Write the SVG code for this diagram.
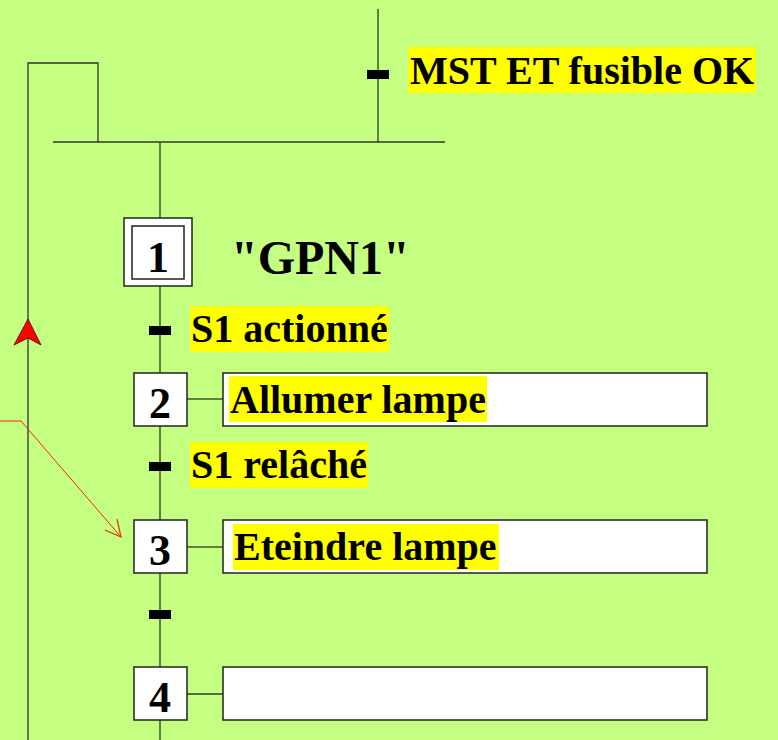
<svg xmlns="http://www.w3.org/2000/svg" width="778" height="740" viewBox="0 0 778 740">
<defs>
<style>
.ln{stroke:#333;stroke-width:1.3;fill:none}
.thin{stroke:#000;stroke-width:1;fill:none}
.box{fill:#fff;stroke:#222;stroke-width:1.5}
.bar{fill:#000}
.hl{fill:#ffff00}
.t{font-family:"Liberation Serif","Times New Roman",serif;font-weight:bold;fill:#000}
.lab{font-size:40px}
.num{font-size:44px;text-anchor:middle}
</style>
</defs>
<rect width="778" height="740" fill="#c4ff82"/>
<g id="connectors">
<polyline class="ln" points="28,740 28,63 98,63 98,142"/>
<line class="ln" x1="53" y1="142" x2="445" y2="142"/>
<line class="thin" x1="378" y1="9" x2="378" y2="142"/>
<line class="ln" x1="160" y1="142" x2="160" y2="740"/>
<line class="thin" x1="187" y1="399" x2="223" y2="399"/>
<line class="thin" x1="187" y1="547" x2="223" y2="547"/>
<line class="ln" x1="187" y1="694" x2="223" y2="694"/>
<polygon points="28,319 41,345 28,338 14,345" fill="#ff0000" stroke="#400" stroke-width="0.8"/>
<polyline points="0,421 21,421 121,537" fill="none" stroke="#ff2020" stroke-width="1"/>
<polyline points="105,530 121,537 117,519" fill="none" stroke="#ff2020" stroke-width="1.2"/>
</g>
<g id="t0">
<rect class="bar" x="367" y="70" width="22" height="9"/>
<rect class="hl" x="408" y="47" width="348" height="46"/>
<text class="t lab" x="410" y="84">MST ET fusible OK</text>
</g>
<g id="step1">
<rect class="box" x="124" y="218" width="68" height="68"/>
<rect class="box" x="132" y="226" width="52" height="53"/>
<text class="t num" x="158" y="272">1</text>
<text class="t" x="231" y="274" font-size="48">"GPN1"</text>
</g>
<g id="t1">
<rect class="bar" x="149" y="326" width="22" height="9"/>
<rect class="hl" x="190" y="306" width="199" height="46"/>
<text class="t lab" x="191" y="342">S1 actionné</text>
</g>
<g id="step2">
<rect class="box" x="134" y="373" width="53" height="53"/>
<text class="t num" x="160" y="418">2</text>
<rect class="box" x="223" y="373" width="484" height="53"/>
<rect class="hl" x="229" y="376" width="258" height="46"/>
<text class="t lab" x="230" y="413">Allumer lampe</text>
</g>
<g id="t2">
<rect class="bar" x="149" y="462" width="22" height="9"/>
<rect class="hl" x="190" y="442" width="178" height="46"/>
<text class="t lab" x="191" y="478">S1 relâché</text>
</g>
<g id="step3">
<rect class="box" x="134" y="520" width="53" height="53"/>
<text class="t num" x="160" y="565">3</text>
<rect class="box" x="223" y="520" width="484" height="53"/>
<rect class="hl" x="233" y="524" width="266" height="46"/>
<text class="t lab" x="234" y="560">Eteindre lampe</text>
</g>
<g id="t3">
<rect class="bar" x="149" y="610" width="22" height="9"/>
</g>
<g id="step4">
<rect class="box" x="134" y="667" width="53" height="53"/>
<text class="t num" x="160" y="712">4</text>
<rect class="box" x="223" y="667" width="484" height="53"/>
</g>
</svg>
